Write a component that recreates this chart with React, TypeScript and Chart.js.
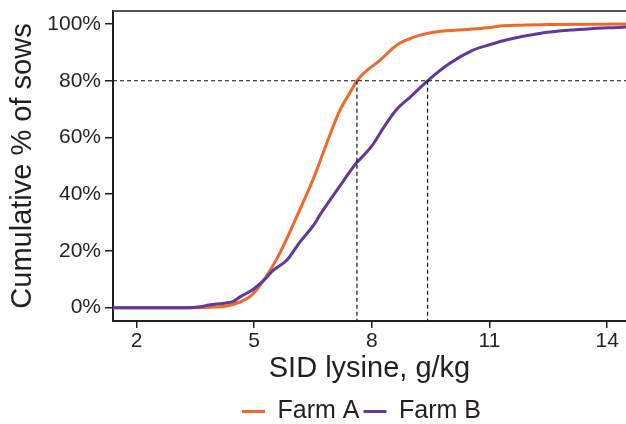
import React, { useEffect, useRef } from 'react';
import { Chart, registerables } from 'chart.js';

Chart.register(...registerables);

// ---- Data ----
const farmAX = [1.4, 3.4, 4.0, 4.3, 4.64, 4.85, 4.98, 5.24, 5.58, 5.83, 6.13, 6.34, 6.51, 6.85, 7.19, 7.45, 7.62, 7.79, 8.21, 8.64, 9.0, 9.23, 9.66, 10.5, 11.02, 11.27, 11.78, 12.5, 14.48];
const farmAY = [0, 0, 0.2, 0.6, 2, 3.5, 5, 9.6, 17.3, 24.3, 33.5, 40, 45.5, 58, 69.7, 76, 80, 82.6, 87.3, 92.6, 95, 96.1, 97.3, 98.2, 98.8, 99.3, 99.6, 99.8, 100];

const farmBX = [1.4, 3.3, 3.62, 3.88, 4.2, 4.47, 4.64, 4.98, 5.24, 5.49, 5.83, 6.17, 6.51, 6.68, 7.17, 7.6, 7.8, 8.03, 8.3, 8.62, 9.0, 9.42, 9.98, 10.58, 11.0, 11.42, 12.27, 13.12, 14.48];
const farmBY = [0, 0, 0.3, 1, 1.5, 2.2, 3.8, 6.5, 9.6, 13.2, 16.7, 23.2, 29, 32.8, 42.6, 50.9, 53.8, 57.6, 63.5, 69.7, 74.5, 80, 86.1, 90.8, 92.7, 94.4, 96.7, 97.9, 99];

const seriesNames = ['Farm A', 'Farm B'];
const xTickValues = [2, 5, 8, 11, 14];
const yTickValues = [0, 20, 40, 60, 80, 100];
const X_MIN = 1.4;
const X_MAX = 14.48;
const Y_MIN = -4.7;
const Y_MAX = 104.6;

const thresholdPct = 80;
const farmAAt80 = 7.62;
const farmBAt80 = 9.42;

const ORANGE = '#EE6A2A';
const PURPLE = '#5D3A9C';
const TEXT = '#231f20';
const FONT = "'Liberation Sans', Arial, Helvetica, sans-serif";

const toPoints = (xs: number[], ys: number[]) => xs.map((x, i) => ({ x, y: ys[i] }));

const guidePlugin = {
  id: 'guides',
  afterLayout(chart: any) {
    // nudge the legend so it sits a little left of the plot centre, as in the reference
    if (chart.legend) {
      chart.legend.left -= 16;
    }
  },
  afterDatasetsDraw(chart: any) {
    const { ctx, chartArea, scales } = chart;
    const x = scales.x;
    const y = scales.y;
    ctx.save();
    ctx.strokeStyle = '#111';
    ctx.lineWidth = 1.2;
    ctx.setLineDash([4, 3]);
    const yp = y.getPixelForValue(thresholdPct);
    ctx.beginPath();
    ctx.moveTo(chartArea.left, yp);
    ctx.lineTo(chartArea.right, yp);
    [farmAAt80, farmBAt80].forEach((v) => {
      const xp = x.getPixelForValue(v);
      ctx.moveTo(xp, yp);
      ctx.lineTo(xp, chartArea.bottom);
    });
    ctx.stroke();
    ctx.setLineDash([]);
    ctx.strokeStyle = '#555555';
    ctx.lineWidth = 2;
    ctx.beginPath();
    ctx.moveTo(chartArea.left, chartArea.top);
    ctx.lineTo(chartArea.right, chartArea.top);
    ctx.stroke();
    ctx.restore();
  },
};

export default function App() {
  const canvasRef = useRef<HTMLCanvasElement | null>(null);

  useEffect(() => {
    if (!canvasRef.current) return;
    Chart.defaults.font.family = FONT;
    Chart.defaults.color = TEXT;
    const chart = new Chart(canvasRef.current, {
      type: 'line',
      data: {
        datasets: [
          {
            label: seriesNames[0],
            data: toPoints(farmAX, farmAY),
            borderColor: ORANGE,
            backgroundColor: ORANGE,
            borderWidth: 3,
            pointRadius: 0,
            cubicInterpolationMode: 'monotone',
            order: 1,
          },
          {
            label: seriesNames[1],
            data: toPoints(farmBX, farmBY),
            borderColor: PURPLE,
            backgroundColor: PURPLE,
            borderWidth: 3,
            pointRadius: 0,
            cubicInterpolationMode: 'monotone',
            order: 0,
          },
        ],
      },
      options: {
        responsive: false,
        animation: false,
        devicePixelRatio: 1,
        layout: { padding: { top: 11, right: 0, left: 0, bottom: -10 } },
        plugins: {
          tooltip: { enabled: false },
          legend: {
            display: true,
            position: 'bottom',
            fullSize: false,
            labels: {
              usePointStyle: true,
              pointStyle: 'line',
              pointStyleWidth: 23,
              padding: 4,
              color: TEXT,
              font: { size: 25, family: FONT },
              sort: (a: any, b: any) => a.datasetIndex - b.datasetIndex,
            },
          },
        },
        scales: {
          x: {
            type: 'linear',
            min: X_MIN,
            max: X_MAX,
            afterBuildTicks: (axis: any) => {
              axis.ticks = xTickValues.map((value) => ({ value }));
            },
            afterFit: (scale: any) => {
              scale.height = 74;
              scale.paddingLeft = 0;
              scale.paddingRight = 0;
            },
            grid: { drawOnChartArea: false, drawTicks: true, tickLength: 7, color: TEXT, lineWidth: 1.5 },
            border: { display: true, color: TEXT, width: 2 },
            ticks: { padding: 1, color: TEXT, font: { size: 21, family: FONT }, maxRotation: 0 },
            title: {
              display: true,
              text: 'SID lysine, g/kg',
              color: TEXT,
              font: { size: 29, family: FONT },
              padding: { top: 0, bottom: 9 },
            },
          },
          y: {
            type: 'linear',
            min: Y_MIN,
            max: Y_MAX,
            afterBuildTicks: (axis: any) => {
              axis.ticks = yTickValues.map((value) => ({ value }));
            },
            afterFit: (scale: any) => {
              scale.width = 113;
              scale.paddingTop = 0;
              scale.paddingBottom = 0;
            },
            grid: { drawOnChartArea: false, drawTicks: true, tickLength: 8, color: TEXT, lineWidth: 1.5 },
            border: { display: true, color: TEXT, width: 2 },
            ticks: {
              padding: 4,
              color: TEXT,
              font: { size: 21, family: FONT },
              callback: (v: any) => `${v}%`,
            },
            title: {
              display: true,
              text: 'Cumulative % of sows',
              color: TEXT,
              font: { size: 29, family: FONT },
              padding: { top: 6, bottom: 0 },
            },
          },
        },
      },
      plugins: [guidePlugin],
    } as any);
    return () => chart.destroy();
  }, []);

  return (
    <div style={{ position: 'fixed', left: 0, top: 0, width: 626, height: 424, background: '#fff' }}>
      <canvas ref={canvasRef} width={626} height={424} style={{ display: 'block' }} />
    </div>
  );
}
